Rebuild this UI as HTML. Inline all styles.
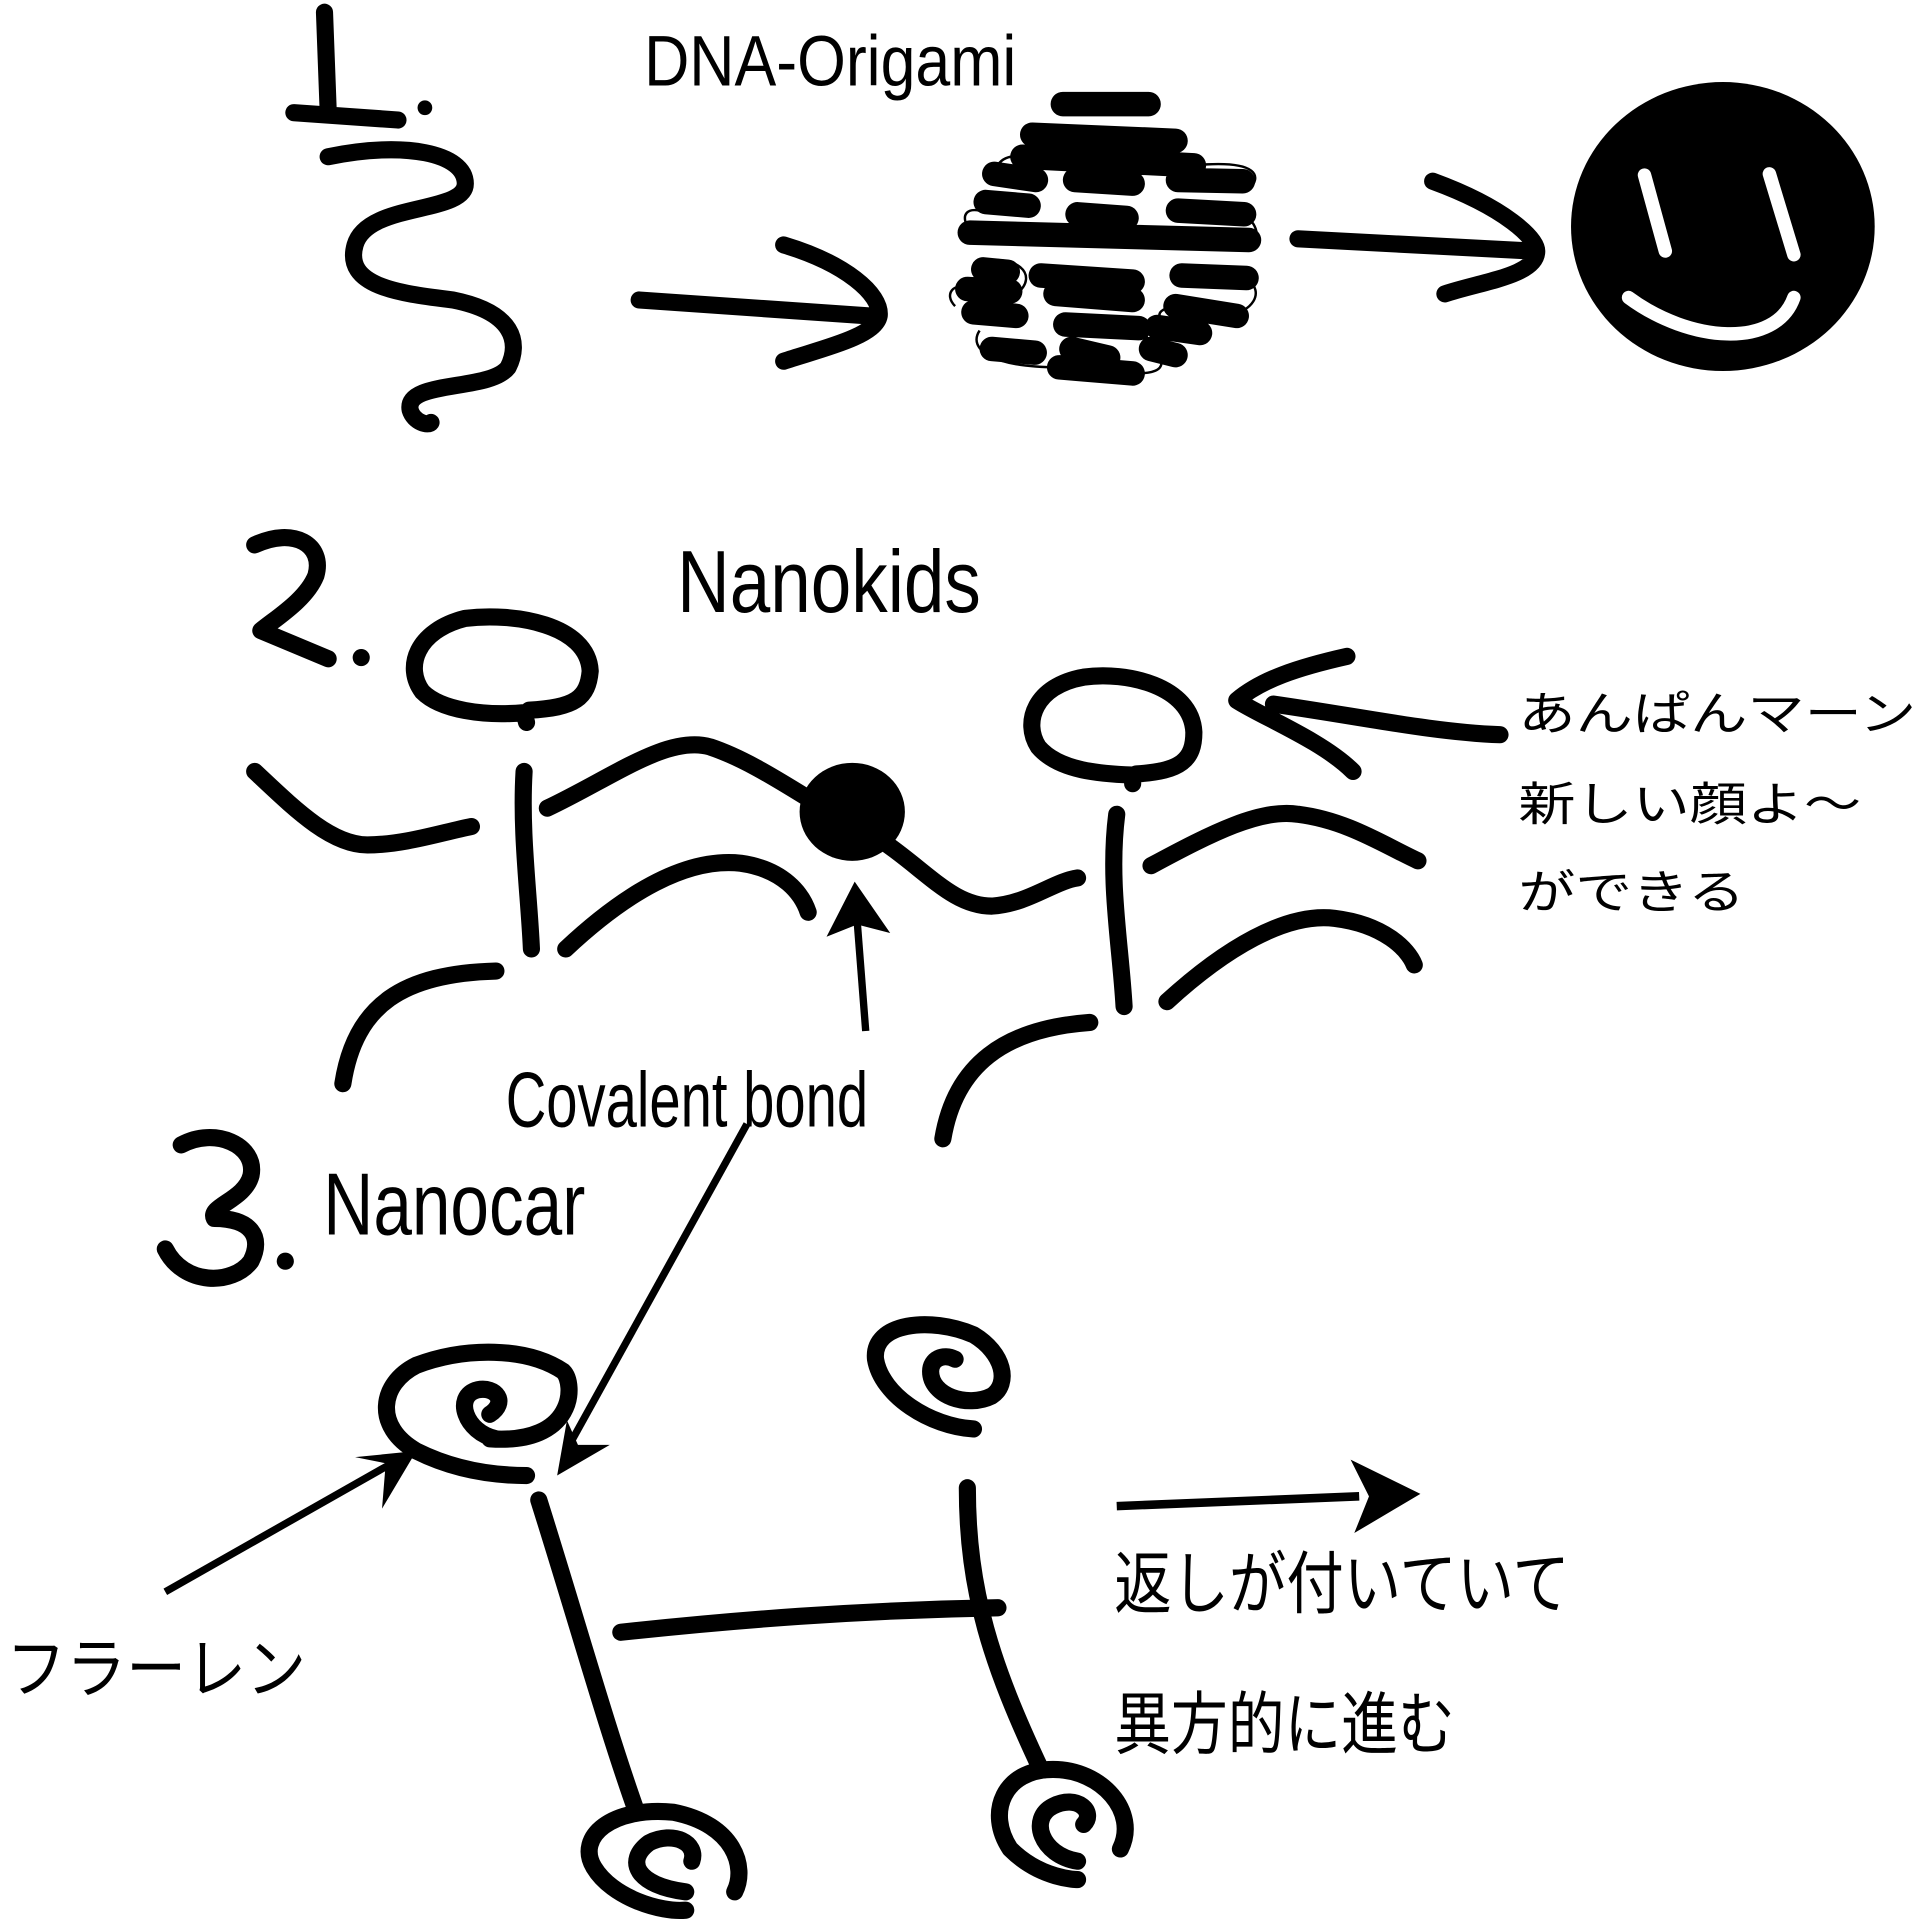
<!DOCTYPE html>
<html><head><meta charset="utf-8"><style>
html,body{margin:0;padding:0;background:#fff;width:1920px;height:1920px;overflow:hidden}
svg{display:block}
text{font-family:"Liberation Sans","Noto Sans CJK JP",sans-serif;fill:#000}
</style></head><body>
<svg width="1920" height="1920" viewBox="0 0 1568 1568" xmlns="http://www.w3.org/2000/svg">
<rect width="1568" height="1568" fill="#fff"/>
<g fill="none" stroke="#000" stroke-linecap="round" stroke-linejoin="round" stroke-width="14">
<path d="M265 10 L268 90 M240 92 L325 98"/>
<path d="M268 128 C330 115 380 125 380 150 C380 175 300 165 290 200 C280 235 330 240 370 245 C420 255 425 280 415 300 C400 320 330 310 335 335 C338 345 350 348 352 345"/>
<path d="M522 245 L710 258 M640 200 C690 215 720 240 718 258 C715 275 670 285 640 295"/>
<path d="M1060 195 L1250 205 M1170 148 C1230 170 1255 195 1255 205 C1255 225 1210 230 1180 240"/>
<path d="M208 445 C240 430 265 445 258 470 C250 490 225 505 213 515 L268 538"/>
<path d="M432 580 C470 578 480 570 482 548 C480 510 420 500 380 505 C340 515 330 545 345 565 C360 580 395 585 428 582 L430 590"/>
<path d="M208 630 C240 660 270 690 300 690 C330 690 360 680 385 675"/>
<path d="M428 630 C425 680 432 730 434 775"/>
<path d="M447 660 C500 635 545 600 580 610 C610 620 640 640 665 655"/>
<path d="M462 775 C510 730 560 700 605 705 C640 710 655 730 660 745"/>
<path d="M280 885 C290 820 330 795 405 793"/>
<path d="M725 690 C760 715 780 740 810 740 C840 738 860 720 880 717"/>
<path d="M928 632 C965 630 975 620 975 598 C973 560 920 548 885 553 C845 560 835 590 848 610 C865 630 900 632 925 633 L925 640"/>
<path d="M912 665 C905 720 915 770 918 822"/>
<path d="M940 707 C990 680 1030 660 1060 665 C1100 670 1130 690 1158 703"/>
<path d="M953 818 C1000 775 1050 745 1090 750 C1130 755 1150 775 1155 788"/>
<path d="M770 930 C780 870 820 840 890 835"/>
<path d="M1100 536 C1060 545 1030 555 1010 572 C1030 585 1080 605 1105 630 M1040 575 C1110 585 1170 598 1225 600"/>
<path d="M148 935 C175 920 210 935 205 960 C200 980 170 985 175 995 C205 995 215 1010 205 1030 C190 1050 150 1050 135 1020"/>
<path d="M400 1175 C470 1180 470 1130 460 1120 C430 1100 380 1100 340 1115 C310 1130 305 1165 340 1185 C370 1200 400 1205 430 1205"/>
<path d="M405 1175 C380 1170 370 1140 390 1135 C405 1132 415 1145 400 1155"/>
<path d="M795 1167 C760 1165 720 1140 715 1110 C712 1080 760 1075 795 1090 C820 1105 825 1130 810 1140 C790 1150 760 1140 760 1120 C760 1110 770 1105 780 1110"/>
<path d="M440 1225 C470 1320 495 1410 520 1480"/>
<path d="M790 1215 C790 1300 810 1360 850 1445"/>
<path d="M507 1333 C600 1323 700 1315 815 1313"/>
<path d="M560 1545 C520 1540 510 1520 530 1505 C550 1495 570 1505 565 1520 M600 1545 C610 1525 600 1490 550 1480 C500 1475 470 1500 485 1525 C500 1550 540 1562 560 1560"/>
<path d="M880 1520 C850 1515 840 1485 860 1475 C880 1465 895 1480 885 1490 M915 1510 C930 1480 900 1445 860 1445 C820 1445 805 1480 825 1510 C850 1535 880 1535 880 1535"/>
</g>
<circle cx="347" cy="88" r="6"/><circle cx="295" cy="537" r="7"/><circle cx="233" cy="1030" r="7"/>
<g stroke="#000" stroke-linecap="round" stroke-width="20">
<path d="M868 85 L938 85 M843 110 L960 115 M835 128 L975 135 M812 142 L846 147 M878 147 L925 150 M962 147 L1015 148 M805 165 L840 168 M880 175 L920 178 M962 172 L1016 175 M792 190 L1020 196 M803 220 L823 222 M850 225 L925 230 M965 225 L1018 227 M790 236 L825 238 M862 240 L925 245 M960 250 L1010 258 M795 255 L830 258 M870 265 L930 268 M945 267 L980 272 M810 285 L845 288 M875 285 L905 292 M940 285 L960 290 M865 300 L925 305"/>
</g>
<g fill="none" stroke="#000" stroke-width="2">
<path d="M835 128 C815 125 810 140 812 150 M975 135 C1030 130 1030 145 1020 155 M790 185 C785 175 790 170 800 172 M1016 175 C1030 185 1028 200 1020 196 M795 215 C830 205 850 225 830 240 M780 250 C770 240 780 230 790 236 M1018 227 C1035 240 1020 255 1005 257 M960 250 C930 255 960 270 965 275 M800 270 C790 285 810 300 865 300 M930 268 C960 300 950 305 925 305"/>
</g>
<ellipse cx="1407" cy="185" rx="124" ry="118"/>
<g fill="none" stroke="#fff" stroke-width="11" stroke-linecap="round">
<path d="M1343 143 L1360 205 M1445 142 L1465 208 M1330 243 C1380 280 1450 285 1465 243"/>
</g>
<ellipse cx="696" cy="663" rx="43" ry="40"/>
<g stroke="#000" stroke-width="6" fill="none"><path d="M707 842 L700 752"/><path d="M610 918 L465 1180"/><path d="M135 1300 L320 1195"/></g>
<path d="M698 720 L675 765 L700 755 L727 762 Z"/>
<path d="M455 1205 L463 1160 L472 1180 L498 1180 Z"/>
<path d="M340 1185 L290 1190 L315 1195 L312 1232 Z"/>
<path d="M912 1230 L1110 1222" stroke="#000" stroke-width="7"/>
<path d="M1160 1220 L1103 1192 L1118 1222 L1106 1252 Z"/>
<text x="526" y="70" font-size="58" textLength="304" lengthAdjust="spacingAndGlyphs">DNA-Origami</text>
<text x="553" y="500" font-size="72" textLength="248" lengthAdjust="spacingAndGlyphs">Nanokids</text>
<text x="413" y="920" font-size="64" textLength="296" lengthAdjust="spacingAndGlyphs">Covalent bond</text>
<text x="264" y="1008" font-size="72" textLength="214" lengthAdjust="spacingAndGlyphs">Nanocar</text>
<text x="1240" y="596" font-size="38" textLength="325" lengthAdjust="spacingAndGlyphs">あんぱんマーン</text>
<text x="1240" y="670" font-size="38" textLength="280" lengthAdjust="spacingAndGlyphs">新しい顔よ～</text>
<text x="1240" y="742" font-size="38" textLength="185" lengthAdjust="spacingAndGlyphs">ができる</text>
<text x="5" y="1382" font-size="54" textLength="245" lengthAdjust="spacingAndGlyphs">フラーレン</text>
<text x="910" y="1313" font-size="56" textLength="372" lengthAdjust="spacingAndGlyphs">返しが付いていて</text>
<text x="910" y="1428" font-size="56" textLength="278" lengthAdjust="spacingAndGlyphs">異方的に進む</text>
</svg>
</body></html>
